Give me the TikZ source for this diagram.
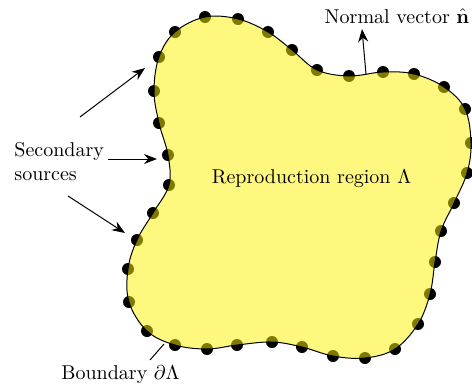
\documentclass[tikz,border=0pt]{standalone}
\usetikzlibrary{arrows.meta}
\begin{document}
\begin{tikzpicture}[x=0.5pt,y=-0.5pt,
  lbl/.style={inner sep=0pt, font=\fontsize{10}{12}\selectfont},
  arr/.style={line width=0.5pt, -{Stealth[length=6.5pt,width=5pt]}},
  src/.style={fill=black},
  region/.style={fill=yellow, fill opacity=0.5},
  bnd/.style={draw=black, line width=0.5pt}]
\useasboundingbox (0,0) rectangle (472,386);
\def\bpts{(205,17) (238,19) (268,32) (292,50) (317,70) (349,76) (383,72) (414,74) (444,87) (465,109) (471,143) (467,173) (454,203) (441,231) (435,262) (430,294) (418,324) (395,349) (365,358) (333,356) (302,347) (272,342) (237,345) (207,349) (175,345) (147,331) (129,302) (128,269) (137,240) (153,213) (169,185) (168,155) (159,123) (154,91) (159,57) (175,32)}
% secondary sources
\foreach \p in {(205,17), (238,19), (268,32), (292,50), (317,70), (349,76), (383,72), (414,74), (444,87), (465,109), (471,143), (467,173), (454,203), (441,231), (435,262), (430,294), (418,324), (395,349), (365,358), (333,356), (302,347), (272,342), (237,345), (207,349), (175,345), (147,331), (129,302), (128,269), (137,240), (153,213), (169,185), (168,155), (159,123), (154,91), (159,57), (175,32)}
  \fill[src] \p circle[radius=3pt];
% region
\fill[region] plot[smooth cycle, tension=0.6] coordinates {(205,17) (238,19) (268,32) (292,50) (317,70) (349,76) (383,72) (414,74) (444,87) (465,109) (471,143) (467,173) (454,203) (441,231) (435,262) (430,294) (418,324) (395,349) (365,358) (333,356) (302,347) (272,342) (237,345) (207,349) (175,345) (147,331) (129,302) (128,269) (137,240) (153,213) (169,185) (168,155) (159,123) (154,91) (159,57) (175,32)};
\draw[bnd] plot[smooth cycle, tension=0.6] coordinates {(205,17) (238,19) (268,32) (292,50) (317,70) (349,76) (383,72) (414,74) (444,87) (465,109) (471,143) (467,173) (454,203) (441,231) (435,262) (430,294) (418,324) (395,349) (365,358) (333,356) (302,347) (272,342) (237,345) (207,349) (175,345) (147,331) (129,302) (128,269) (137,240) (153,213) (169,185) (168,155) (159,123) (154,91) (159,57) (175,32)};
% labels
\node[lbl, anchor=base] (region) at (311.5,183) {Reproduction region $\Lambda$};
\node[lbl, anchor=base] (normal) at (397,23) {Normal vector $\hat{\mathbf{n}}$};
\node[lbl, anchor=north west, align=left] (secondary) at (14,142) {Secondary\\sources};
\node[lbl, anchor=base] (boundary) at (120.5,379) {Boundary $\partial\Lambda$};
% connectors
\coordinate (n0) at (366,74);
\coordinate (n1) at (362,29);
\coordinate (a0) at (80,117);
\coordinate (a1) at (145,68);
\coordinate (b0) at (108,159);
\coordinate (b1) at (157,159);
\coordinate (c0) at (68,196);
\coordinate (c1) at (125,233);
\coordinate (d0) at (150,360);
\coordinate (d1) at (164,344);
\draw[arr] (n0) -- (n1);
\draw[arr] (a0) -- (a1);
\draw[arr] (b0) -- (b1);
\draw[arr] (c0) -- (c1);
\draw[line width=0.5pt] (d0) -- (d1);
\end{tikzpicture}
\end{document}
